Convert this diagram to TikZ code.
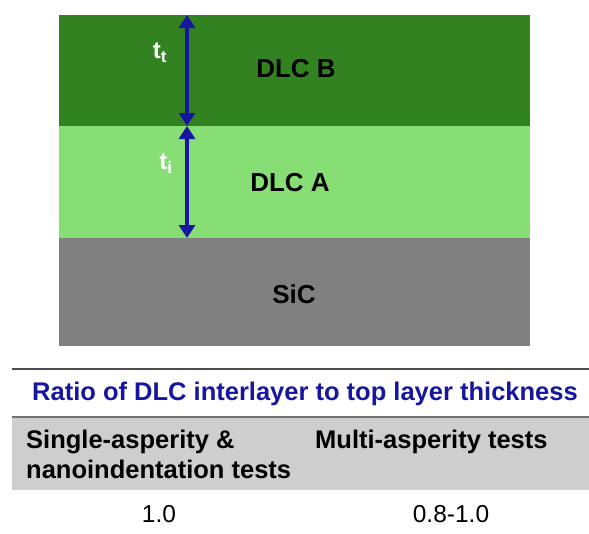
\documentclass[tikz,border=0pt]{standalone}
\usepackage{fontspec}
\setmainfont{Liberation Sans}
\usetikzlibrary{arrows.meta,positioning}

\definecolor{dlcb}{RGB}{51,130,33}
\definecolor{dlca}{RGB}{135,222,117}
\definecolor{sic}{RGB}{128,128,128}
\definecolor{navy}{RGB}{22,22,160}
\definecolor{band}{RGB}{206,206,206}

\begin{document}
\begin{tikzpicture}[
  x=1pt, y=-1pt,
  layer/.style={anchor=north west, inner sep=0pt, minimum width=471pt, minimum height=111pt},
  lbl/.style={anchor=base, inner sep=0pt, font=\bfseries\fontsize{26}{28}\selectfont},
  thk/.style={text=white, inner sep=0pt, font=\bfseries\fontsize{24}{24}\selectfont},
  hdr/.style={anchor=north west, inner sep=0pt, align=left, font=\bfseries\fontsize{25.5}{30}\selectfont},
  val/.style={anchor=base, inner sep=0pt, font=\fontsize{24.5}{28}\selectfont},
  dim/.style={navy, line width=4.5pt, {Triangle[width=16pt,length=13pt]}-{Triangle[width=16pt,length=13pt]}}
]
\useasboundingbox (0,0) rectangle (589,533);

% layer stack
\node[layer, fill=dlcb] (topl) at (59,15) {};
\node[layer, fill=dlca, minimum height=112pt] (midl) at (59,126) {};
\node[layer, fill=sic, minimum height=108pt] (subl) at (59,238) {};

\node[lbl] (b) at (296,77) {DLC B};
\node[lbl] (a) at (290,191) {DLC A};
\node[lbl] (s) at (294,303) {SiC};

\coordinate (p0) at (187,15);
\coordinate (p1) at (187,126);
\coordinate (p2) at (187,238);
\draw[dim] (p0) -- (p1);
\draw[dim] (p1) -- (p2);
\node[thk] (tt) at (160,53) {t\textsubscript{t}};
\node[thk] (ti) at (166,164) {t\textsubscript{i}};

% table
\draw[black!70, line width=1.2pt] (12,369) -- (589,369);
\node[navy, anchor=base, inner sep=0pt, font=\bfseries\fontsize{25.5}{28}\selectfont] (ttl) at (305,400) {Ratio of DLC interlayer to top layer thickness};
\fill[band] (12,417) rectangle (589,490);
\draw[black!55, line width=1.5pt] (12,417) -- (589,417);
\node[hdr] (h1) at (26,430) {Single-asperity \&\\nanoindentation tests};
\node[hdr] (h2) at (315,430) {Multi-asperity tests};
\node[val] (v1) at (159,522) {1.0};
\node[val] (v2) at (451,522) {0.8-1.0};

\end{tikzpicture}
\end{document}
